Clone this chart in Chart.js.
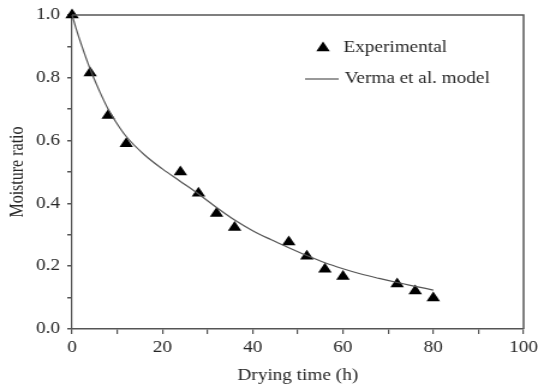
<!DOCTYPE html>
<html>
<head>
<meta charset="utf-8">
<script src="https://cdn.jsdelivr.net/npm/chart.js@4.4.1/dist/chart.umd.min.js"></script>
<style>
  html, body { margin: 0; padding: 0; background: #fff; }
  /* the original figure is stretched sideways, so the canvas is drawn narrower and widened by css */
  #chart { display: block; width: 538px; height: 387px; }
</style>
</head>
<body>
<canvas id="chart" width="448" height="387" style="width:538px;height:387px"></canvas>
<script>
// Experimental points (drying time in h, moisture ratio)
const expTime = [0, 4, 8, 12, 24, 28, 32, 36, 48, 52, 56, 60, 72, 76, 80];
const expMR = [1.0, 0.815, 0.68, 0.59, 0.50, 0.432, 0.368, 0.323, 0.277, 0.232, 0.19, 0.167, 0.143, 0.121, 0.099];

// Verma et al. model curve
const modelTime = [0, 1, 2, 4, 6, 8, 10, 12, 16, 20, 24, 28, 32, 36, 40, 44, 48, 52, 56, 60, 64, 68, 72, 76, 80];
const modelMR = [1.0, 0.952, 0.908, 0.828, 0.76, 0.70, 0.653, 0.613, 0.555, 0.51, 0.47, 0.43, 0.387, 0.347, 0.313, 0.285, 0.259, 0.234, 0.211, 0.192, 0.175, 0.161, 0.148, 0.136, 0.124];

const legendLabels = ['Experimental', 'Verma et al. model'];
const xTitle = 'Drying time (h)';
const yTitle = 'Moisture ratio';

const FONT = '"Liberation Serif", "Times New Roman", serif';
const TEXT = '#262626';
const AXIS = '#555';

const toPoints = (xs, ys) => xs.map((x, i) => ({ x: x, y: ys[i] }));

// box on top/right plus the legend inside the plot
const framePlugin = {
    id: 'frame',
    afterDraw(chart) {
        const { ctx, chartArea: a } = chart;
        ctx.save();
        ctx.strokeStyle = AXIS;
        ctx.lineWidth = 1.5;
        ctx.beginPath();
        ctx.moveTo(a.left, a.top);
        ctx.lineTo(a.right, a.top);
        ctx.lineTo(a.right, a.bottom);
        ctx.stroke();

        ctx.font = '16px ' + FONT;
        ctx.textBaseline = 'middle';
        ctx.textAlign = 'left';

        // triangle marker
        const tx = 269, ty = 48, r = 6.5;
        ctx.fillStyle = '#000';
        ctx.beginPath();
        ctx.moveTo(tx, ty - r);
        ctx.lineTo(tx + r * 0.866, ty + r * 0.5);
        ctx.lineTo(tx - r * 0.866, ty + r * 0.5);
        ctx.closePath();
        ctx.fill();
        ctx.fillStyle = TEXT;
        ctx.fillText(legendLabels[0], 286, 48);

        // line sample
        ctx.strokeStyle = '#555';
        ctx.lineWidth = 1.2;
        ctx.beginPath();
        ctx.moveTo(254, 79);
        ctx.lineTo(282, 79);
        ctx.stroke();
        ctx.fillText(legendLabels[1], 287, 79);
        ctx.restore();
    }
};

new Chart(document.getElementById('chart'), {
    type: 'scatter',
    data: {
        datasets: [
            {
                label: legendLabels[1],
                type: 'line',
                data: toPoints(modelTime, modelMR),
                borderColor: '#555',
                borderWidth: 1.2,
                pointRadius: 0,
                cubicInterpolationMode: 'monotone',
                fill: false,
                clip: false
            },
            {
                label: legendLabels[0],
                data: toPoints(expTime, expMR),
                pointStyle: 'triangle',
                pointRadius: 6.5,
                backgroundColor: '#000',
                borderColor: '#000',
                borderWidth: 0,
                clip: false
            }
        ]
    },
    options: {
        responsive: false,
        animation: false,
        events: [],
        layout: { padding: { top: 15, right: 12, left: 0, bottom: 0 } },
        plugins: {
            legend: { display: false },
            tooltip: { enabled: false }
        },
        scales: {
            x: {
                type: 'linear',
                min: 0,
                max: 100,
                afterFit(s) {
                    s.height = 58;
                    s.paddingLeft = 0;
                    s.paddingRight = 0;
                },
                border: { color: AXIS, width: 1.5 },
                grid: { drawOnChartArea: false, drawTicks: true, tickLength: 5, color: AXIS, lineWidth: 1.2 },
                ticks: {
                    stepSize: 10,
                    autoSkip: false,
                    maxRotation: 0,
                    padding: 4,
                    color: TEXT,
                    font: { family: FONT, size: 16 },
                    callback: v => (v % 20 === 0 ? String(v) : '')
                },
                title: {
                    display: true,
                    text: xTitle,
                    color: TEXT,
                    font: { family: FONT, size: 16 },
                    padding: { top: 0, bottom: 2 }
                }
            },
            y: {
                min: 0,
                max: 1,
                afterFit(s) {
                    s.width = 60;
                    s.paddingTop = 0;
                    s.paddingBottom = 0;
                },
                border: { color: AXIS, width: 1.2 },
                grid: { drawOnChartArea: false, drawTicks: true, tickLength: 4, color: AXIS, lineWidth: 1.5 },
                ticks: {
                    stepSize: 0.1,
                    autoSkip: false,
                    padding: 6,
                    color: TEXT,
                    font: { family: FONT, size: 16 },
                    callback: v => (Math.round(v * 10) % 2 === 0 ? v.toFixed(1) : '')
                },
                title: {
                    display: true,
                    text: yTitle,
                    color: TEXT,
                    font: { family: FONT, size: 16 },
                    padding: { top: 5, bottom: 0 }
                }
            }
        }
    },
    plugins: [framePlugin]
});
</script>
</body>
</html>
